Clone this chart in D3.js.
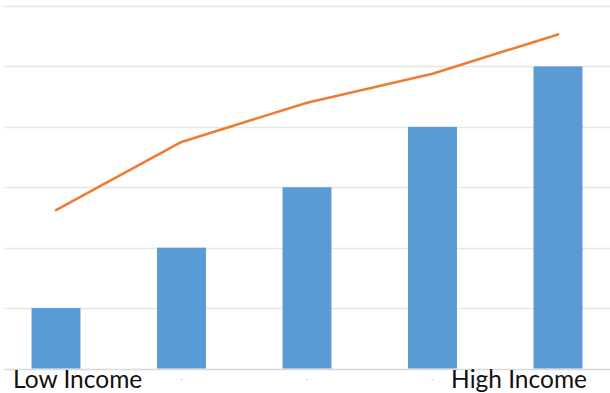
<!DOCTYPE html>
<html>
<head>
<meta charset="utf-8">
<script src="https://cdn.jsdelivr.net/npm/d3@7"></script>
<style>
  html, body { margin: 0; padding: 0; background: #fff; }
  svg { display: block; }
</style>
</head>
<body>
<svg id="chart" width="610" height="393"></svg>
<script>
// Income groups, lowest to highest
const categories = ["g1", "g2", "g3", "g4", "g5"];
const tickLabels = ["Low Income", "-", "-", "-", "High Income"];
// Bar series
const barValues = [1, 2, 3, 4, 5];
// Line series
const lineValues = [2.62, 3.75, 4.40, 4.88, 5.53];
// Value axis gridlines
const gridTicks = [0, 1, 2, 3, 4, 5, 6];

const svg = d3.select("#chart");
const W = 610, H = 393;

const x = d3.scaleBand()
  .domain(categories)
  .range([-6.75, 620.75])
  .paddingInner(0.61)
  .paddingOuter(0.305);

const y = d3.scaleLinear()
  .domain([0, 6])
  .range([368.5, 6]);

// gridlines
svg.append("g")
  .selectAll("line")
  .data(gridTicks)
  .join("line")
  .attr("x1", 4)
  .attr("x2", W)
  .attr("y1", d => Math.round(y(d)) + 0.5)
  .attr("y2", d => Math.round(y(d)) + 0.5)
  .attr("stroke", d => d === 0 ? "#d9d9d9" : "#e6e6e6")
  .attr("stroke-width", 1.5);

// bars
svg.append("g")
  .selectAll("rect")
  .data(barValues)
  .join("rect")
  .attr("x", (d, i) => x(categories[i]))
  .attr("width", x.bandwidth())
  .attr("y", d => y(d))
  .attr("height", d => y(0) - y(d))
  .attr("fill", "#5b9bd5");

// line
const line = d3.line()
  .x((d, i) => x(categories[i]) + x.bandwidth() / 2)
  .y(d => y(d));

svg.append("path")
  .datum(lineValues)
  .attr("d", line)
  .attr("fill", "none")
  .attr("stroke", "#ed7d31")
  .attr("stroke-width", 2.6)
  .attr("stroke-linejoin", "round")
  .attr("stroke-linecap", "round");

// category labels
const lab = svg.append("g");
tickLabels.forEach((t, i) => {
  const cx = x(categories[i]) + x.bandwidth() / 2;
  if (i === 0) {
    lab.append("text").attr("x", cx - 43).attr("y", 388)
      .attr("text-anchor", "start")
      .attr("font-family", "Lato, 'Open Sans', sans-serif")
      .attr("font-size", 24.5).attr("fill", "#111").text(t);
  } else if (i === tickLabels.length - 1) {
    lab.append("text").attr("x", cx + 29).attr("y", 388)
      .attr("text-anchor", "end")
      .attr("font-family", "Lato, 'Open Sans', sans-serif")
      .attr("font-size", 24.5).attr("fill", "#111").text(t);
  } else {
    lab.append("text").attr("x", cx).attr("y", 382)
      .attr("text-anchor", "middle")
      .attr("font-family", "Lato, sans-serif")
      .attr("font-size", 7).attr("fill", "#aaa").text(t);
  }
});
</script>
</body>
</html>
